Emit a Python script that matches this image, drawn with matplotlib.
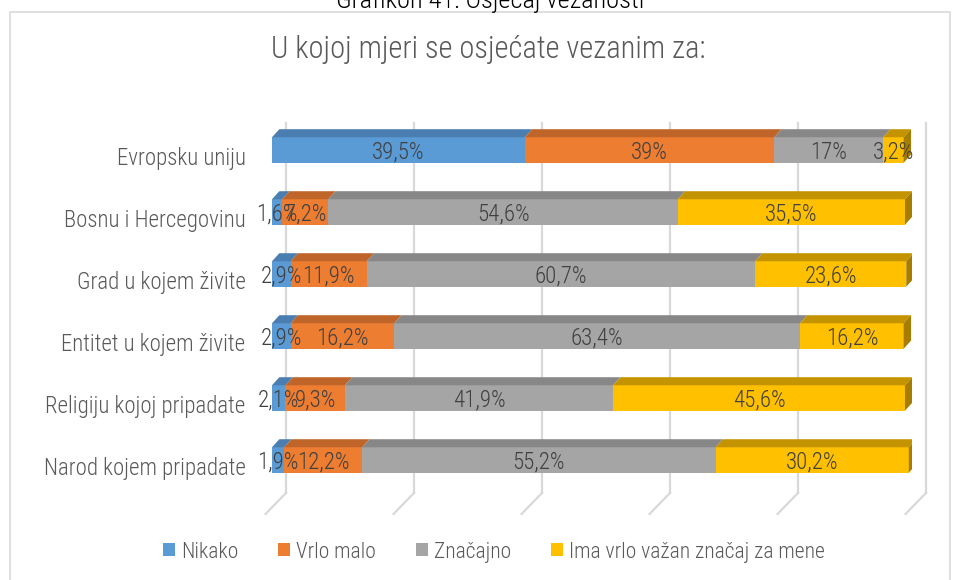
import matplotlib.pyplot as plt
from matplotlib.patches import Polygon, Patch, Rectangle

plt.rcParams['font.family'] = ['Roboto Condensed', 'Liberation Sans Narrow', 'Roboto', 'DejaVu Sans']
plt.rcParams['font.weight'] = 'light'

categories = ['Evropsku uniju', 'Bosnu i Hercegovinu', 'Grad u kojem živite',
              'Entitet u kojem živite', 'Religiju kojoj pripadate', 'Narod kojem pripadate']
series_names = ['Nikako', 'Vrlo malo', 'Značajno', 'Ima vrlo važan značaj za mene']
nikako = [39.5, 1.6, 2.9, 2.9, 2.1, 1.9]
vrlo_malo = [39, 7.2, 11.9, 16.2, 9.3, 12.2]
znacajno = [17, 54.6, 60.7, 63.4, 41.9, 55.2]
ima_znacaj = [3.2, 35.5, 23.6, 16.2, 45.6, 30.2]
series = [nikako, vrlo_malo, znacajno, ima_znacaj]

front = ['#5B9BD5', '#ED7D31', '#A5A5A5', '#FFC000']
top = ['#4A7EB0', '#C0652A', '#878787', '#C49400']
side = '#A67D00'
grid_c = '#D9D9D9'
txt_c = '#595959'
lbl_c = '#404040'

W, H = 957, 580
fig = plt.figure(figsize=(W / 100, H / 100), dpi=100)
# axes: x 0..100 spans 272..912 px, rows centred at 150 + 62*i px
ax = fig.add_axes([272 / W, 1 - 520 / H, 640 / W, 420 / H])
ax.set_xlim(0, 100)
ax.set_ylim(5.968, -0.806)
for s in ax.spines.values():
    s.set_visible(False)
ax.set_xticks([])

bh = 0.41     # bar height (rows)
dx = 1.15     # depth in % units
dy = 0.13     # depth in row units

# back wall gridlines and floor lines
for k in range(6):
    xb = 2.2 + 20 * k
    ax.plot([xb, xb], [-0.44, 5.53], color=grid_c, lw=1.6, zorder=0, clip_on=False)
    ax.plot([xb, xb - 3.2], [5.53, 5.87], color=grid_c, lw=1.6, zorder=0, clip_on=False)

rows = list(range(len(categories)))
for i in rows:
    left = 0
    for j, vals in enumerate(series):
        w = vals[i]
        ax.barh(i, w, left=left, height=bh, color=front[j], edgecolor='none', zorder=2)
        yt = i - bh / 2
        ax.add_patch(Polygon([(left, yt), (left + w, yt), (left + w + dx, yt - dy), (left + dx, yt - dy)],
                             closed=True, facecolor=top[j], edgecolor='none', zorder=2))
        ax.text(left + w / 2, i + 0.04, f'{w:g}%'.replace('.', ','), ha='center', va='center',
                fontsize=16.5, color=lbl_c, zorder=4)
        left += w
    yt = i - bh / 2
    ax.add_patch(Polygon([(left, yt), (left + dx, yt - dy), (left + dx, yt + bh - dy), (left, yt + bh)],
                         closed=True, facecolor=side, edgecolor='none', zorder=2))

ax.set_yticks([r + 0.1 for r in rows])
ax.set_yticklabels(categories, fontsize=16.5, color=txt_c)
ax.tick_params(axis='y', length=0, pad=19)

fig.text(488 / W, 1 - 50 / H, 'U kojoj mjeri se osjećate vezanim za:', ha='center', va='center',
         fontsize=22, color=txt_c)

# chart border and caption above it
fig.patches.append(Rectangle((10 / W, -0.01), 940 / W, 1 - 12 / H + 0.01, transform=fig.transFigure,
                             fill=False, edgecolor=grid_c, lw=1.2))
fig.text(490 / W, 1 - 8 / H, 'Grafikon 41: Osjećaj vezanosti', ha='center', va='baseline',
         fontsize=19, color='black')

handles = [Patch(facecolor=c, edgecolor='none') for c in front]
fig.legend(handles, series_names, loc='center', bbox_to_anchor=(494 / W, 1 - 552 / H), ncol=4,
           frameon=False, fontsize=15.5, labelcolor=txt_c, handlelength=0.55, handleheight=0.55,
           handletextpad=0.3, columnspacing=1.85)

fig.savefig('out.png', dpi=100)
